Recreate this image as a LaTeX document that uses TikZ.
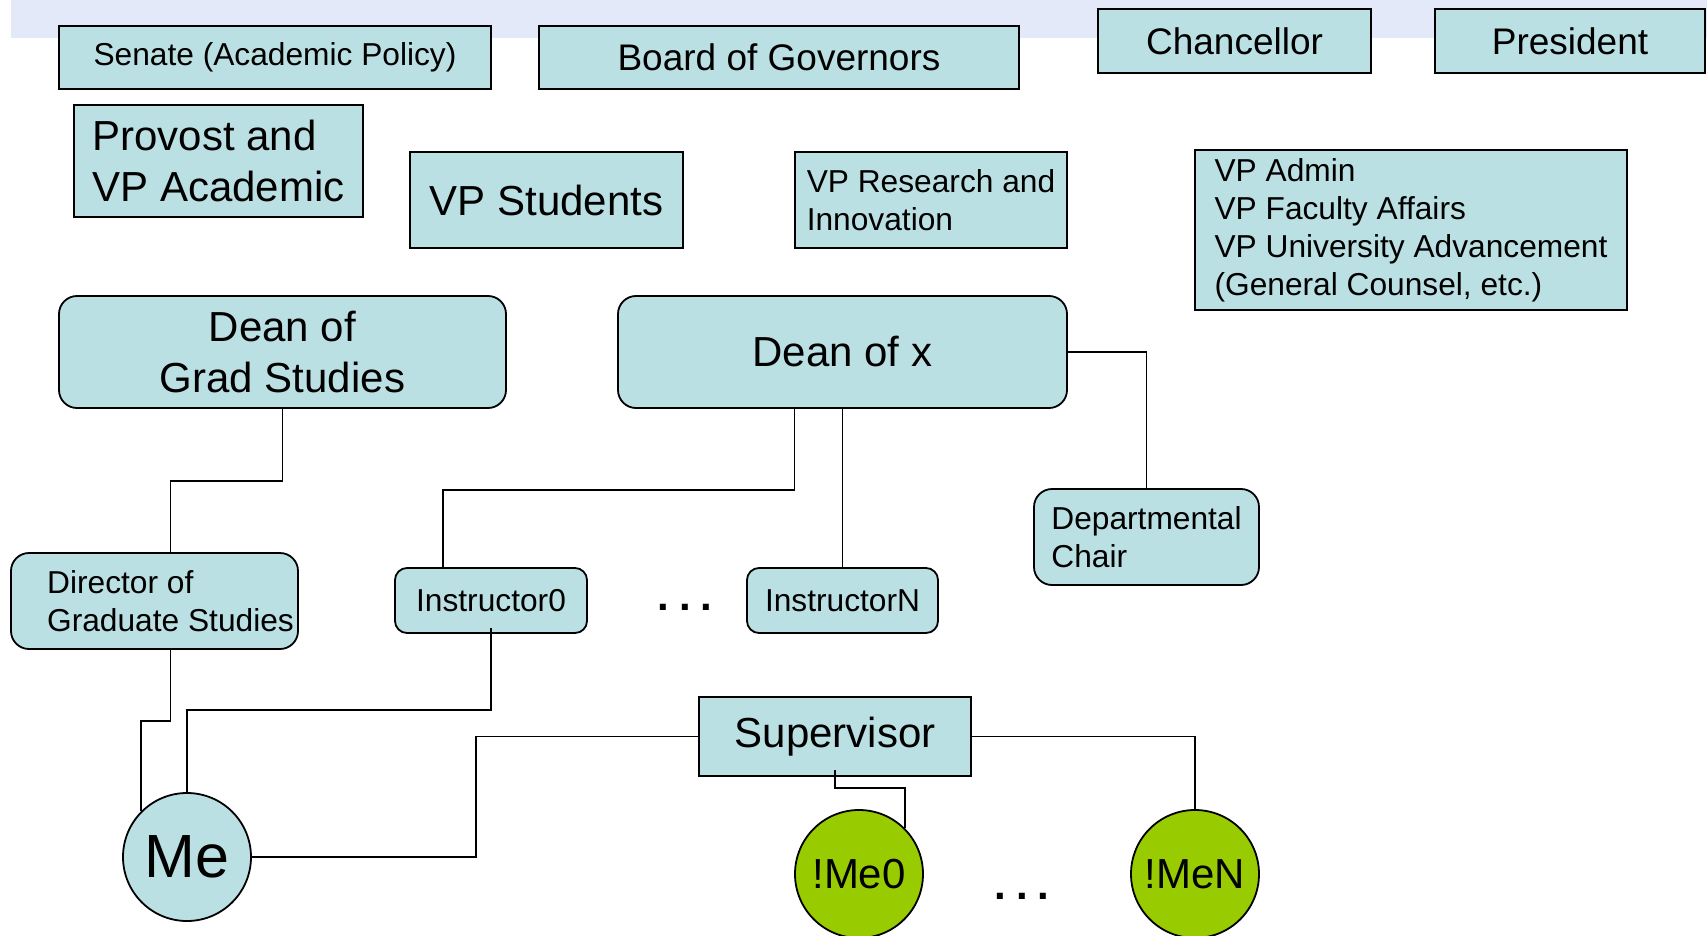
\documentclass[tikz,border=0pt]{standalone}
\usepackage{fontspec}
\setmainfont{Liberation Sans}
\usepackage{tikz}
\definecolor{boxfill}{RGB}{187,224,227}
\definecolor{mefill}{RGB}{153,204,0}
\definecolor{band}{RGB}{228,233,250}
\newcommand\fsmall{\fontsize{31.7}{38}\selectfont}
\newcommand\fmid{\fontsize{37}{44}\selectfont}
\newcommand\fbig{\fontsize{42}{51}\selectfont}
\newcommand\fhuge{\fontsize{61}{70}\selectfont}
\newcommand\gap{\hspace{0.24em}}

\begin{document}
\begin{tikzpicture}[x=1pt,y=-1pt,
	sq/.style={draw,line width=2.2pt,fill=boxfill,inner sep=2pt,align=center},
	rd/.style={sq,rounded corners=18pt,line width=1.8pt},
	person/.style={circle,draw,line width=1.8pt,minimum size=128pt,inner sep=0pt},
	link/.style={line width=1.8pt}]
\useasboundingbox (0,0) rectangle (1707,936);
\fill[band] (11,0) rectangle (1707,38);

% top row
\node[sq,minimum width=432pt,minimum height=63pt,font=\fsmall] (senate) at (275,57.5) {Senate (Academic Policy)};
\node[sq,minimum width=480pt,minimum height=63pt,font=\fmid] (board) at (779,57.5) {Board of Governors};
\node[sq,minimum width=273pt,minimum height=64pt,font=\fmid] (chanc) at (1234.5,41) {Chancellor};
\node[sq,minimum width=270pt,minimum height=64pt,font=\fmid] (pres) at (1570,41) {President};

% vice presidents
\node[sq,minimum width=289pt,minimum height=112pt,font=\fbig,align=left] (provost) at (218.5,161) {Provost and\\VP Academic};
\node[sq,minimum width=273pt,minimum height=96pt,font=\fbig] (vpstud) at (546.5,200) {VP Students};
\node[sq,minimum width=272pt,minimum height=96pt,font=\fsmall,align=left] (vpres) at (931,200) {VP Research and\\Innovation};
\node[sq,minimum width=432pt,minimum height=160pt,font=\fsmall,align=left] (vpadmin) at (1411,230) {VP Admin\\VP Faculty Affairs\\VP University Advancement\\(General Counsel, etc.)};

% deans
\node[rd,minimum width=447pt,minimum height=112pt,font=\fbig] (dgs) at (282.5,352) {Dean of\\Grad Studies};
\node[rd,minimum width=449pt,minimum height=112pt,font=\fbig] (dx) at (842.5,352) {Dean of x};

\node[rd,minimum width=225pt,minimum height=96pt,font=\fsmall,align=left] (chair) at (1146.5,537) {Departmental\\Chair};
\node[rd,minimum width=287pt,minimum height=96pt,font=\fsmall,align=left] (dir) at (154.5,601) {\hspace*{32pt}Director of\\\hspace*{32pt}Graduate Studies};
\node[rd,minimum width=192pt,minimum height=65pt,font=\fsmall,rounded corners=12pt] (ins0) at (491,600.5) {Instructor0};
\node[rd,minimum width=191pt,minimum height=65pt,font=\fsmall,rounded corners=12pt] (insN) at (842.5,600.5) {InstructorN};
\node[anchor=base,font=\fbig\bfseries] (dotsA) at (685,610) {.\gap.\gap.};

\node[sq,minimum width=272pt,minimum height=79pt,font=\fbig] (sup) at (835,736.5) {Supervisor};

% students
\node[person,fill=boxfill,font=\fhuge] (me) at (187,857) {Me};
\node[person,fill=mefill,font=\fbig] (me0) at (859,874) {!Me0};
\node[person,fill=mefill,font=\fbig] (meN) at (1195,874) {!MeN};
\node[anchor=base,font=\fbig\bfseries] (dotsB) at (1022,899) {.\gap.\gap.};

% reporting lines
\draw[link] (dgs.south) -- ++(0,72) -| ([xshift=16pt]dir.north);
\draw[link] ([xshift=-48pt]dx.south) -- ++(0,81) -| ([xshift=-48pt]ins0.north);
\draw[link] (dx.south) -- (insN.north);
\draw[link] (dx.east) -| (chair.north);
\draw[link] ([xshift=16pt]dir.south) -- ++(0,71) -| (me.north west);
\draw[link] ([yshift=6pt]ins0.south) -- ++(0,82) -| (me.north);
\draw[link] (me.east) -- ++(224,0) |- (sup.west);
\draw[link] ([yshift=7pt]sup.south) -- ++(0,18) -| (me0.north east);
\draw[link] (sup.east) -| (meN.north);
\end{tikzpicture}
\end{document}
